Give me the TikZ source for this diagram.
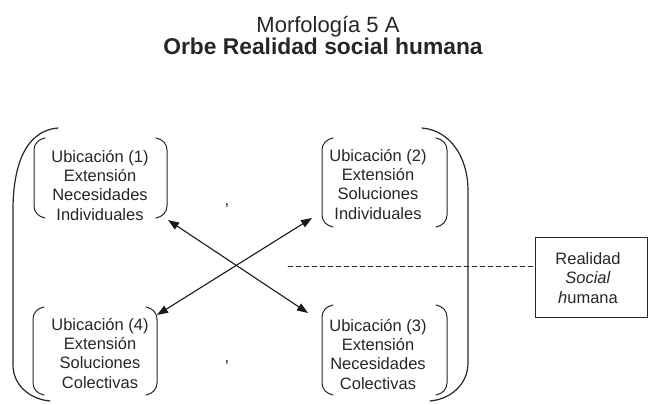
\documentclass[tikz,border=0pt]{standalone}
\usepackage{fontspec}
\setmainfont{Liberation Sans}
\usetikzlibrary{arrows.meta}
\newcommand\pbrk[1]{%
  \draw[brk] ([xshift=11pt]#1.north west) to[out=190,in=90] ([yshift=-12pt]#1.north west)
    -- ([yshift=12pt]#1.south west) to[out=-90,in=170] ([xshift=11pt]#1.south west);
  \draw[brk] ([xshift=-11pt]#1.north east) to[out=-10,in=90] ([yshift=-12pt]#1.north east)
    -- ([yshift=12pt]#1.south east) to[out=-90,in=10] ([xshift=-11pt]#1.south east);
}
\begin{document}
\begin{tikzpicture}[x=1pt,y=-1pt,line cap=round,
  lbl/.style={font=\fontsize{16.5}{19.2}\selectfont,align=center,inner sep=0pt,anchor=base,text=black!85},
  ttl/.style={font=\fontsize{22}{24}\selectfont,inner sep=0pt,anchor=base,text=black!85},
  frame/.style={inner sep=0pt,outer sep=0pt},
  brk/.style={line width=1pt,black!85},
  big/.style={line width=1.2pt,black!85},
  arr/.style={line width=1.1pt,black!90,{Triangle[length=11pt,width=8pt]}-{Triangle[length=11pt,width=8pt]}},
  rbox/.style={draw=black!85,line width=1pt,minimum width=112pt,minimum height=80pt,inner sep=0pt}
]
\useasboundingbox (0,0) rectangle (650,404);
% titles
\node[ttl] (title1) at (328,33) {Morfología 5 A};
\node[ttl,font=\bfseries\fontsize{22.8}{24}\selectfont] (title2) at (323,55) {Orbe Realidad social humana};
% small bracket frames
\node[frame,minimum width=133pt,minimum height=80pt] (b1) at (100.5,178) {};
\node[frame,minimum width=125pt,minimum height=89pt] (b2) at (384.5,182.5) {};
\node[frame,minimum width=124pt,minimum height=88pt] (b4) at (95,351) {};
\node[frame,minimum width=125pt,minimum height=90pt] (b3) at (384.5,350) {};
\pbrk{b1}\pbrk{b2}\pbrk{b3}\pbrk{b4}
% texts (anchor = baseline of last line)
\node[lbl] (t1) at (100,220) {Ubicación (1)\\Extensión\\Necesidades\\Individuales};
\node[lbl] (t2) at (378,219) {Ubicación (2)\\Extensión\\Soluciones\\Individuales};
\node[lbl] (t4) at (100,388) {Ubicación (4)\\Extensión\\Soluciones\\Colectivas};
\node[lbl] (t3) at (378,389) {Ubicación (3)\\Extensión\\Necesidades\\Colectivas};
% commas
\node[lbl] (c1) at (227,205) {,};
\node[lbl] (c2) at (227,362) {,};
% big brackets
\coordinate (LT) at (58,128);
\coordinate (LB) at (50,401);
\coordinate (RT) at (422,128);
\coordinate (RB) at (430,401);
\draw[big] (LT) to[out=185,in=90] (13,210) -- (13,365) to[out=-90,in=175] (LB);
\draw[big] (RT) to[out=-5,in=90] (468,190) -- (468,363) to[out=-90,in=5] (RB);
% arrows
\coordinate (a1) at (168,220);
\coordinate (a3) at (308,313);
\coordinate (a2) at (312,218);
\coordinate (a4) at (157,315);
\draw[arr] (a1) -- (a3);
\draw[arr] (a2) -- (a4);
% realidad box
\node[rbox] (rs) at (591,277) {};
\node[lbl] (rt) at (588,303) {Realidad\\\textit{Social}\\\textit{h}umana};
\coordinate (dl) at (288,266);
\draw[black!85,line width=0.9pt,dash pattern=on 5pt off 3pt] (dl) -- (dl -| rs.west);
\end{tikzpicture}
\end{document}
